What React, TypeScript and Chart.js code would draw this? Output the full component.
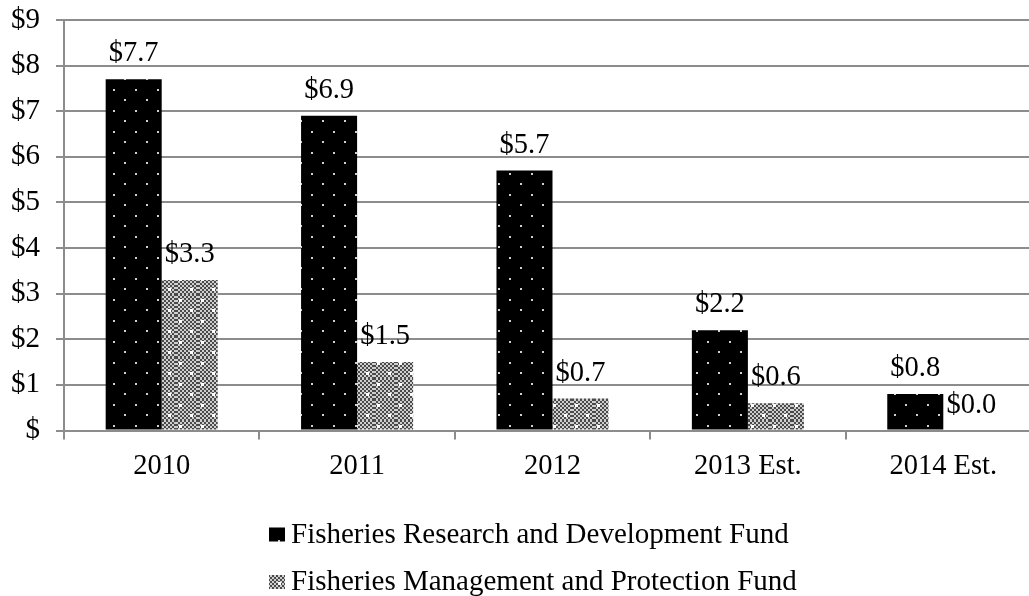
import React, { useEffect, useRef } from "react";
import { Chart, registerables } from "chart.js";

Chart.register(...registerables);

const categories = ["2010", "2011", "2012", "2013 Est.", "2014 Est."];
const researchFund = [7.7, 6.9, 5.7, 2.2, 0.8];
const managementFund = [3.3, 1.5, 0.7, 0.6, 0.0];
const seriesLabels = [
  "Fisheries Research and Development Fund",
  "Fisheries Management and Protection Fund",
];
const yMin = 0;
const yMax = 9;
const yStep = 1;

const FONT = "'Liberation Serif', 'Times New Roman', serif";

function makeResearchPattern(): CanvasPattern | string {
  const c = document.createElement("canvas");
  c.width = 22;
  c.height = 21;
  const g = c.getContext("2d");
  if (!g) return "#000";
  g.fillStyle = "#000";
  g.fillRect(0, 0, 22, 21);
  g.fillStyle = "#d0d0d0";
  g.fillRect(3, 5, 2, 2);
  g.fillRect(14, 15, 2, 2);
  const p = g.createPattern(c, "repeat");
  return p || "#000";
}

function makeManagementPattern(): CanvasPattern | string {
  const c = document.createElement("canvas");
  c.width = 22;
  c.height = 21;
  const g = c.getContext("2d");
  if (!g) return "#888";
  for (let y = 0; y < 21; y++) {
    for (let x = 0; x < 22; x++) {
      const dark = (Math.floor(x / 2) + Math.floor(y / 2)) % 2 === 0;
      g.fillStyle = dark ? "#4a4a4a" : "#cfcfcf";
      g.fillRect(x, y, 1, 1);
    }
  }
  g.fillStyle = "#ffffff";
  g.fillRect(3, 5, 3, 3);
  g.fillRect(14, 15, 3, 3);
  const p = g.createPattern(c, "repeat");
  return p || "#888";
}

const dataLabelPlugin = {
  id: "dataLabels",
  afterDatasetsDraw(chart: any) {
    const ctx = chart.ctx;
    ctx.save();
    ctx.font = `28.5px ${FONT}`;
    ctx.fillStyle = "#000";
    ctx.textAlign = "center";
    ctx.textBaseline = "alphabetic";
    chart.data.datasets.forEach((ds: any, di: number) => {
      const meta = chart.getDatasetMeta(di);
      meta.data.forEach((el: any, i: number) => {
        const v = ds.data[i] as number;
        ctx.fillText("$" + v.toFixed(1), el.x, el.y - 18);
      });
    });
    ctx.restore();
  },
};

const customLegendPlugin = {
  id: "customLegend",
  afterDraw(chart: any) {
    const ctx = chart.ctx;
    ctx.save();
    ctx.font = `29px ${FONT}`;
    ctx.fillStyle = "#000";
    ctx.textAlign = "left";
    ctx.textBaseline = "alphabetic";
    const boxX = 269;
    const textX = 291;
    const baselines = [542.5, 590];
    chart.data.datasets.forEach((ds: any, di: number) => {
      const base = baselines[di];
      ctx.fillStyle = ds.backgroundColor;
      ctx.fillRect(boxX, base - 15, 16, 14);
      ctx.fillStyle = "#000";
      ctx.fillText(ds.label, textX, base);
    });
    ctx.restore();
  },
};

export default function App() {
  const ref = useRef<HTMLCanvasElement | null>(null);

  useEffect(() => {
    if (!ref.current) return;
    Chart.defaults.font.family = FONT;
    Chart.defaults.color = "#000";
    const gridColor = "#8c8c8c";
    const chart = new Chart(ref.current, {
      type: "bar",
      data: {
        labels: categories,
        datasets: [
          {
            label: seriesLabels[0],
            data: researchFund,
            backgroundColor: makeResearchPattern() as any,
            borderWidth: 0,
            categoryPercentage: 0.5735,
            barPercentage: 1,
          },
          {
            label: seriesLabels[1],
            data: managementFund,
            backgroundColor: makeManagementPattern() as any,
            borderWidth: 0,
            categoryPercentage: 0.5735,
            barPercentage: 1,
          },
        ],
      },
      options: {
        responsive: false,
        animation: false,
        layout: { padding: { top: 20, right: 0, bottom: 100, left: 0 } },
        plugins: {
          legend: { display: false },
          tooltip: { enabled: false },
        },
        scales: {
          x: {
            grid: {
              display: true,
              drawOnChartArea: false,
              drawTicks: true,
              tickLength: 9,
              color: gridColor,
              lineWidth: 2,
              offset: true,
            },
            border: { display: true, color: gridColor, width: 2 },
            ticks: {
              font: { size: 28.5, family: FONT },
              color: "#000",
              padding: 10,
              maxRotation: 0,
              autoSkip: false,
            },
            afterFit(scale: any) {
              scale.height = 65.5;
              scale.paddingLeft = 0;
              scale.paddingRight = 0;
            },
          },
          y: {
            min: yMin,
            max: yMax,
            grid: {
              display: true,
              drawOnChartArea: true,
              drawTicks: true,
              tickLength: 8,
              color: gridColor,
              lineWidth: 2,
            },
            border: { display: true, color: gridColor, width: 2 },
            ticks: {
              stepSize: yStep,
              font: { size: 29, family: FONT },
              color: "#000",
              padding: 16,
              callback: (v: any) => (Number(v) === 0 ? "$" : "$" + v),
            },
            afterFit(scale: any) {
              scale.width = 64;
              scale.paddingTop = 0;
              scale.paddingBottom = 0;
            },
          },
        },
      },
      plugins: [dataLabelPlugin, customLegendPlugin],
    });
    return () => chart.destroy();
  }, []);

  return (
    <div
      style={{
        position: "fixed",
        left: 0,
        top: 0,
        width: 1029,
        height: 596,
        overflow: "hidden",
        background: "#fff",
      }}
    >
      <canvas ref={ref} width={1041} height={596} style={{ display: "block" }} />
    </div>
  );
}
